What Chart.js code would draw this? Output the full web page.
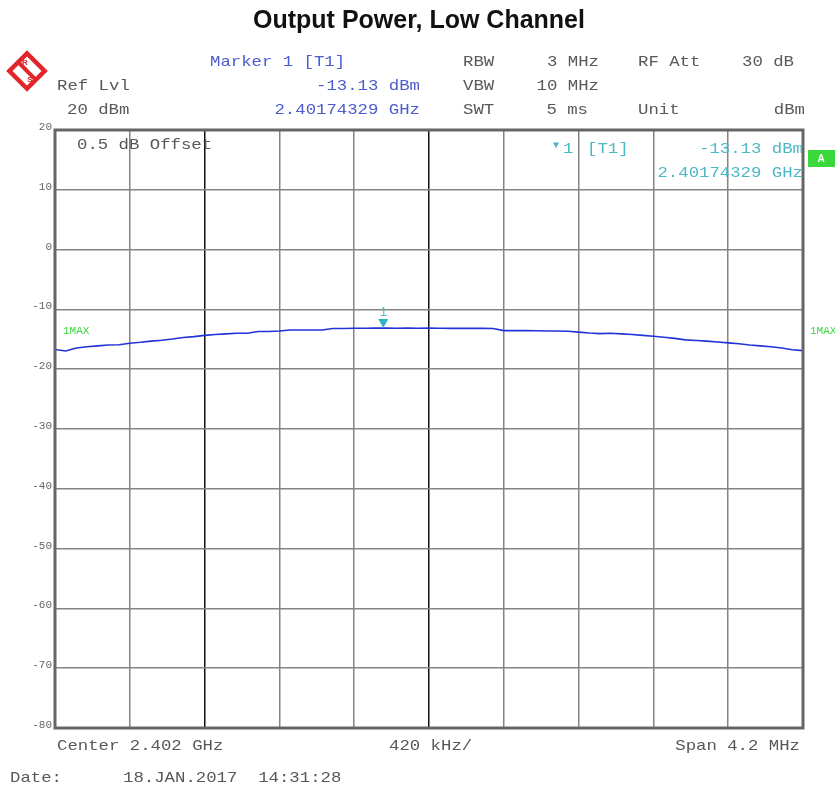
<!DOCTYPE html>
<html>
<head>
<meta charset="utf-8">
<script src="https://cdn.jsdelivr.net/npm/chart.js@4/dist/chart.umd.min.js"></script>
<style>
  html, body { margin: 0; padding: 0; background: #fff; }
  #wrap { width: 835px; height: 790px; position: relative; }
</style>
</head>
<body>
<div id="wrap"><canvas id="c" width="835" height="790"></canvas></div>
<script>
// Sweep: 4.2 MHz span around 2.402 GHz, frequency given as kHz from the start of the span
const freqKHz = [
  0, 60, 120, 180, 240, 300, 360, 420, 480, 540,
  600, 660, 720, 780, 840, 900, 960, 1020, 1080, 1140,
  1200, 1260, 1320, 1380, 1440, 1500, 1560, 1620, 1680, 1740,
  1800, 1860, 1920, 1980, 2040, 2100, 2160, 2220, 2280, 2340,
  2400, 2460, 2520, 2580, 2640, 2700, 2760, 2820, 2880, 2940,
  3000, 3060, 3120, 3180, 3240, 3300, 3360, 3420, 3480, 3540,
  3600, 3660, 3720, 3780, 3840, 3900, 3960, 4020, 4080, 4140, 4200
];
// Max-hold trace level, dBm
const levelDBm = [
  -16.70, -16.95, -16.45, -16.25, -16.10, -15.95, -15.90, -15.65, -15.50, -15.30,
  -15.15, -14.95, -14.70, -14.55, -14.35, -14.20, -14.10, -14.00, -14.00, -13.70,
  -13.70, -13.60, -13.45, -13.45, -13.45, -13.45, -13.20, -13.20, -13.15, -13.14,
  -13.13, -13.13, -13.14, -13.13, -13.16, -13.13, -13.16, -13.17, -13.17, -13.17,
  -13.17, -13.20, -13.55, -13.55, -13.55, -13.58, -13.60, -13.62, -13.65, -13.80,
  -13.95, -14.05, -14.00, -14.10, -14.20, -14.35, -14.50, -14.65, -14.85, -15.10,
  -15.20, -15.30, -15.45, -15.60, -15.75, -15.95, -16.10, -16.25, -16.45, -16.75, -16.90
];
// Marker 1 on trace 1
const markerKHz = [1843.29];
const markerDBm = [-13.13];
// Axis ranges and division steps
const yTicks = [20, 10, 0, -10, -20, -30, -40, -50, -60, -70, -80];
const xRange = [0, 4200];
const xStep = 420;

const MONO = "'Liberation Mono', 'DejaVu Sans Mono', monospace";
const GRAY = '#585858';
const BLUE = '#4a5cd0';
const TEAL = '#4bb8c8';
const GREEN = '#3ad83a';

function monoText(ctx, txt, x, y, align, color, size, sx) {
  size = size || 15; sx = sx || 1.155;
  ctx.save();
  ctx.font = size + 'px ' + MONO;
  ctx.fillStyle = color;
  ctx.textBaseline = 'middle';
  const w = ctx.measureText(txt).width * sx;
  let left = x;
  if (align === 'right') left = x - w;
  else if (align === 'center') left = x - w / 2;
  ctx.translate(left, y);
  ctx.scale(sx, 1);
  ctx.textAlign = 'left';
  ctx.fillText(txt, 0, 0);
  ctx.restore();
}

const decor = {
  id: 'decor',
  afterDraw(chart) {
    const ctx = chart.ctx;
    const a = chart.chartArea;
    const xs = chart.scales.x, ys = chart.scales.y;

    // plot frame
    ctx.save();
    ctx.strokeStyle = '#666666';
    ctx.lineWidth = 3;
    ctx.strokeRect(a.left, a.top, a.right - a.left, a.bottom - a.top);
    ctx.restore();

    // title
    ctx.save();
    ctx.font = "bold 25px 'Liberation Sans', Arial, sans-serif";
    ctx.fillStyle = '#111';
    ctx.textAlign = 'center';
    ctx.textBaseline = 'middle';
    ctx.fillText('Output Power, Low Channel', 419, 21);
    ctx.restore();

    // R&S logo: red diamond with a diagonal band
    ctx.save();
    ctx.translate(27, 71);
    ctx.rotate(Math.PI / 4);
    ctx.strokeStyle = '#e0262a';
    ctx.lineWidth = 4.5;
    ctx.strokeRect(-12.5, -12.5, 25, 25);
    ctx.fillStyle = '#e0262a';
    ctx.fillRect(-12.5, -2, 25, 4);
    ctx.restore();
    ctx.save();
    ctx.fillStyle = '#e0262a';
    ctx.font = "bold 8px 'Liberation Sans', sans-serif";
    ctx.textAlign = 'center';
    ctx.textBaseline = 'middle';
    ctx.fillText('R', 25, 63);
    ctx.fillText('S', 30, 80);
    ctx.restore();

    // instrument header
    monoText(ctx, 'Marker 1 [T1]', 210, 62, 'left', BLUE);
    monoText(ctx, 'RBW', 463, 62, 'left', GRAY);
    monoText(ctx, '3 MHz', 599, 62, 'right', GRAY);
    monoText(ctx, 'RF Att', 638, 62, 'left', GRAY);
    monoText(ctx, '30 dB', 794, 62, 'right', GRAY);

    monoText(ctx, 'Ref Lvl', 57, 86, 'left', GRAY);
    monoText(ctx, markerDBm[0].toFixed(2) + ' dBm', 420, 86, 'right', BLUE);
    monoText(ctx, 'VBW', 463, 86, 'left', GRAY);
    monoText(ctx, '10 MHz', 599, 86, 'right', GRAY);

    monoText(ctx, '20 dBm', 67, 110, 'left', GRAY);
    monoText(ctx, '2.40174329 GHz', 420, 110, 'right', BLUE);
    monoText(ctx, 'SWT', 463, 110, 'left', GRAY);
    monoText(ctx, '5 ms', 588, 110, 'right', GRAY);
    monoText(ctx, 'Unit', 638, 110, 'left', GRAY);
    monoText(ctx, 'dBm', 805, 110, 'right', GRAY);

    // inside the diagram
    monoText(ctx, '0.5 dB Offset', 77, 145, 'left', GRAY);
    monoText(ctx, '\u25BC', 553, 145, 'left', TEAL, 10, 1);
    monoText(ctx, '1', 563, 149, 'left', TEAL);
    monoText(ctx, '[T1]', 587, 149, 'left', TEAL);
    monoText(ctx, markerDBm[0].toFixed(2) + ' dBm', 803, 149, 'right', TEAL);
    monoText(ctx, '2.40174329 GHz', 803, 173, 'right', TEAL);

    // trace indicator box
    ctx.save();
    ctx.fillStyle = GREEN;
    ctx.fillRect(808, 150, 27, 17);
    ctx.fillStyle = '#fff';
    ctx.font = "bold 10px 'Liberation Sans', sans-serif";
    ctx.textAlign = 'center';
    ctx.textBaseline = 'middle';
    ctx.fillText('A', 821, 159);
    ctx.restore();

    // trace mode labels
    monoText(ctx, '1MAX', 63, 331, 'left', GREEN, 10, 1.1);
    monoText(ctx, '1MAX', 810, 331, 'left', GREEN, 10, 1.1);

    // marker symbol on the trace
    const mx = xs.getPixelForValue(markerKHz[0]);
    const my = ys.getPixelForValue(markerDBm[0]);
    ctx.save();
    ctx.fillStyle = '#2fb4c4';
    ctx.beginPath();
    ctx.moveTo(mx, my);
    ctx.lineTo(mx - 5, my - 9);
    ctx.lineTo(mx + 5, my - 9);
    ctx.closePath();
    ctx.fill();
    ctx.restore();
    monoText(ctx, '1', mx, my - 15, 'center', TEAL, 12, 1);

    // footer
    monoText(ctx, 'Center 2.402 GHz', 57, 746, 'left', GRAY);
    monoText(ctx, (xStep) + ' kHz/', 389, 746, 'left', GRAY);
    monoText(ctx, 'Span 4.2 MHz', 800, 746, 'right', GRAY);
    monoText(ctx, 'Date:', 10, 778, 'left', GRAY);
    monoText(ctx, '18.JAN.2017  14:31:28', 123, 778, 'left', GRAY);
  }
};

const points = freqKHz.map((f, i) => ({ x: f, y: levelDBm[i] }));

new Chart(document.getElementById('c'), {
  type: 'line',
  data: {
    datasets: [{
      label: '1MAX',
      data: points,
      borderColor: '#2133d6',
      borderWidth: 1.6,
      pointRadius: 0,
      tension: 0,
      fill: false
    }]
  },
  options: {
    responsive: false,
    animation: false,
    devicePixelRatio: 1,
    layout: { padding: { left: 0, top: 130, right: 32, bottom: 62 } },
    plugins: { legend: { display: false }, title: { display: false }, tooltip: { enabled: false } },
    scales: {
      x: {
        type: 'linear',
        min: xRange[0],
        max: xRange[1],
        ticks: { display: false, stepSize: xStep },
        grid: {
          drawTicks: false,
          lineWidth: 1.5,
          color: (c) => (c.index === 2 || c.index === 5) ? '#111111' : '#848484'
        },
        border: { display: false },
        afterFit: (s) => { s.height = 0; }
      },
      y: {
        min: yTicks[yTicks.length - 1],
        max: yTicks[0],
        afterBuildTicks: (s) => { s.ticks = yTicks.map(v => ({ value: v })); },
        ticks: {
          padding: 3,
          labelOffset: -3,
          color: '#666',
          font: { family: 'Liberation Mono', size: 11 }
        },
        grid: { drawTicks: false, lineWidth: 1.5, color: '#848484' },
        border: { display: false },
        afterFit: (s) => { s.width = 55; }
      }
    }
  },
  plugins: [decor]
});
</script>
</body>
</html>
